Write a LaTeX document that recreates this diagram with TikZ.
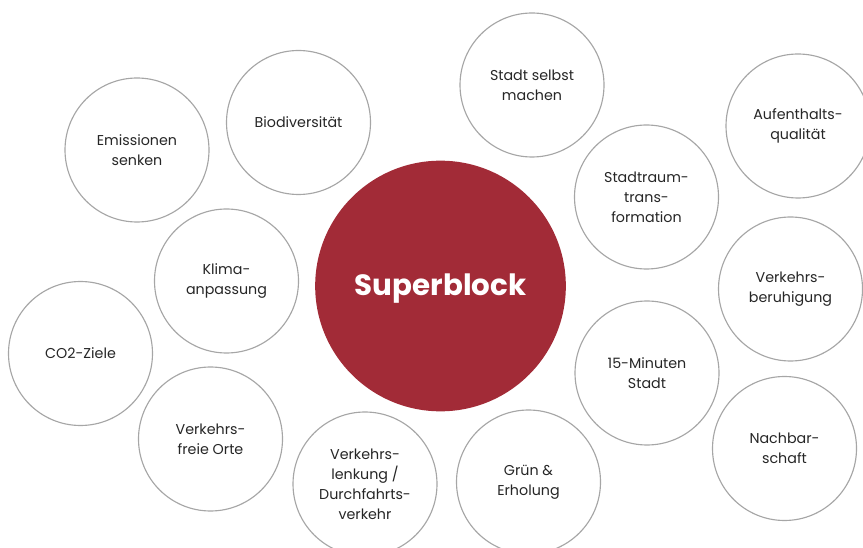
\documentclass[tikz,border=0pt]{standalone}
\usepackage{fontspec}
\setmainfont{Poppins}
\definecolor{sbred}{HTML}{A22B37}
\definecolor{ringgray}{HTML}{A6A6A6}
\definecolor{txtgray}{HTML}{262626}
\begin{document}
\begin{tikzpicture}[x=0.75pt,y=-0.75pt,
  topic/.style={circle,draw=ringgray,line width=0.85pt,fill=white,minimum size=108pt,inner sep=0pt,align=center,
    font=\fontsize{10.7}{15}\selectfont,text=txtgray},
  core/.style={circle,fill=sbred,minimum size=188pt,inner sep=0pt,text=white,
    font=\fontsize{22}{24}\bfseries\selectfont}]
\useasboundingbox (0,0) rectangle (863,548);
\node[core] (sb) at (440.5,286) {};
\node (sbt) at (440.5,289) {\color{white}\fontsize{22}{24}\bfseries\selectfont Superblock};
\node[topic] (em) at (137,150) {Emissionen\\senken};
\node[topic] (bio) at (298.5,122.5) {Biodiversität};
\node[topic] (ssm) at (532,85) {Stadt selbst\\machen};
\node[topic] (auf) at (798,126) {Aufenthalts-\\qualität};
\node[topic] (str) at (646.5,197) {Stadtraum-\\trans-\\formation};
\node[topic] (kli) at (226.5,281) {Klima-\\anpassung};
\node[topic] (vbr) at (790.5,289) {Verkehrs-\\beruhigung};
\node[topic] (co2) at (80.5,353.5) {CO2-Ziele};
\node[topic] (min) at (647,373) {15-Minuten\\Stadt};
\node[topic] (vfo) at (210.5,439) {Verkehrs-\\freie Orte};
\node[topic] (nac) at (784.5,448.5) {Nachbar-\\schaft};
\node[topic] (vle) at (365,484) {Verkehrs-\\lenkung /\\Durchfahrts-\\verkehr};
\node[topic] (gru) at (528.5,482) {Grün \&\\Erholung};
\end{tikzpicture}
\end{document}
